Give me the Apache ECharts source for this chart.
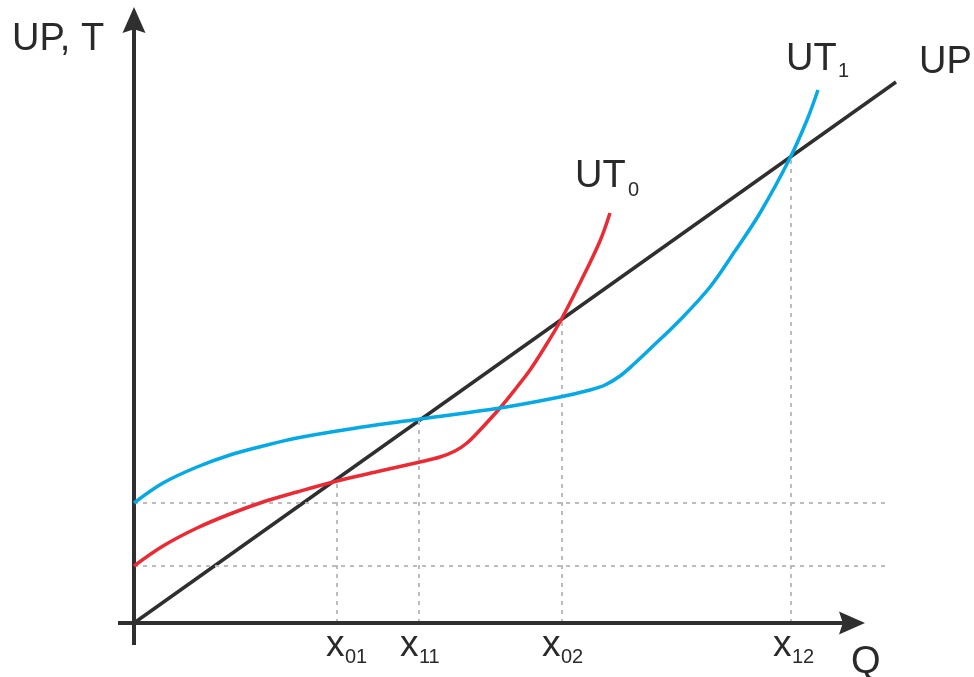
<!DOCTYPE html>
<html><head><meta charset="utf-8">
<script src="https://cdn.jsdelivr.net/npm/echarts@6/dist/echarts.min.js"></script>
<style>html,body{margin:0;padding:0;background:#fff}#c{width:974px;height:677px}</style>
</head><body><div id="c"></div>
<script>
// ---- data (Q on x, UP/T on y; arbitrary units) ----
const upLine = [[0, 0], [762, 541]];
const ut0 = [[0,57],[29,77],[63,95],[96,109],[129,121],[163,131],[203,142],[246,152],[286,161],[306,166],[321,172],[333,180],[346,193],[366,215],[383,236],[396,253],[409,273],[427,303],[446,340],[466,382],[476,410]];
const ut1 = [[0,120],[29,140],[63,156],[96,168],[129,177],[163,185],[216,194],[286,204],[366,215],[426,226],[456,233],[471,238],[486,247],[500,259],[516,274],[546,303],[576,336],[601,372],[626,410],[656,465],[673,503],[684,533]];
const tickNames = ['01', '11', '02', '12'];
const tickValues = [203, 285, 428, 657];
const guideLevels = [120, 57];
const guideEnd = 751;
const xAxisEnd = 718, yAxisEnd = 603, xAxisStart = -16, yAxisStart = -22;

// ---- styles ----
const FONT = '"Liberation Sans", Arial, Helvetica, sans-serif';
const INK = '#2f2f2f';
const TEXT = '#2a2a2a';
const RED = '#ec2a33';
const BLUE = '#05a9e6';
const GUIDE = '#bcbcbc';
const tickLabelShift = [-11, -19, -20, -18];
const ARROW = 'path://M12,0 L24,27 L12,23 L0,27 Z';

const slope = upLine[1][1] / upLine[1][0];

function txt(x, y, text, fs) {
  return { value: [x, y], label: { show: true, formatter: text, position: [0, 0], align: 'left', verticalAlign: 'middle',
    fontFamily: FONT, fontSize: fs, color: TEXT, opacity: 1 } };
}

const textItems = [
  txt(-122, 583, 'UP, T', 38),
  txt(441, 446, 'UT', 38), txt(494, 432, '0', 20),
  txt(652, 563, 'UT', 38), txt(704, 551, '1', 20),
  txt(785, 560, 'UP', 38),
  txt(717, -40, 'Q', 38)
];
tickValues.forEach((v, i) => {
  textItems.push(txt(v + tickLabelShift[i], -22.5, 'x', 37));
  textItems.push(txt(v + tickLabelShift[i] + 19, -35, tickNames[i], 20));
});

const guideLines = [];
guideLevels.forEach(l => guideLines.push([{ coord: [0, l] }, { coord: [guideEnd, l] }]));
tickValues.forEach(v => guideLines.push([{ coord: [v, 0] }, { coord: [v, v * slope] }]));

const chart = echarts.init(document.getElementById('c'));
chart.setOption({
  animation: false,
  grid: { left: 0, right: 0, top: 0, bottom: 0 },
  xAxis: { type: 'value', min: -134, max: 840, show: false },
  yAxis: { type: 'value', min: -54, max: 623, show: false },
  series: [
    { type: 'line', data: [], silent: true, z: 1,
      markLine: { silent: true, symbol: ['none', 'none'], label: { show: false },
        lineStyle: { color: GUIDE, width: 2, type: [4, 5] }, data: guideLines } },
    { type: 'line', data: [], silent: true, z: 2,
      markLine: { silent: true, symbol: ['none', 'none'], label: { show: false },
        lineStyle: { color: INK, width: 4, type: 'solid' },
        data: [[{ coord: [xAxisStart, 0] }, { coord: [xAxisEnd, 0] }], [{ coord: [0, yAxisStart] }, { coord: [0, yAxisEnd] }]] } },
    { type: 'scatter', z: 3, silent: true, symbol: ARROW, symbolSize: [23, 26], itemStyle: { color: INK, opacity: 1 },
      data: [{ value: [xAxisEnd, 0], symbolRotate: -90 }, { value: [0, yAxisEnd], symbolRotate: 0 }] },
    { name: 'UP', type: 'line', z: 4, data: upLine, symbol: 'none', lineStyle: { color: INK, width: 3.5 } },
    { name: 'UT0', type: 'line', z: 5, data: ut0, symbol: 'none', smooth: 0.35, lineStyle: { color: RED, width: 3.5 } },
    { name: 'UT1', type: 'line', z: 5, data: ut1, symbol: 'none', smooth: 0.35, lineStyle: { color: BLUE, width: 3.5 } },
    { type: 'scatter', z: 6, silent: true, symbolSize: 0.1, itemStyle: { color: 'rgba(0,0,0,0)' }, data: textItems }
  ]
});
</script></body></html>
